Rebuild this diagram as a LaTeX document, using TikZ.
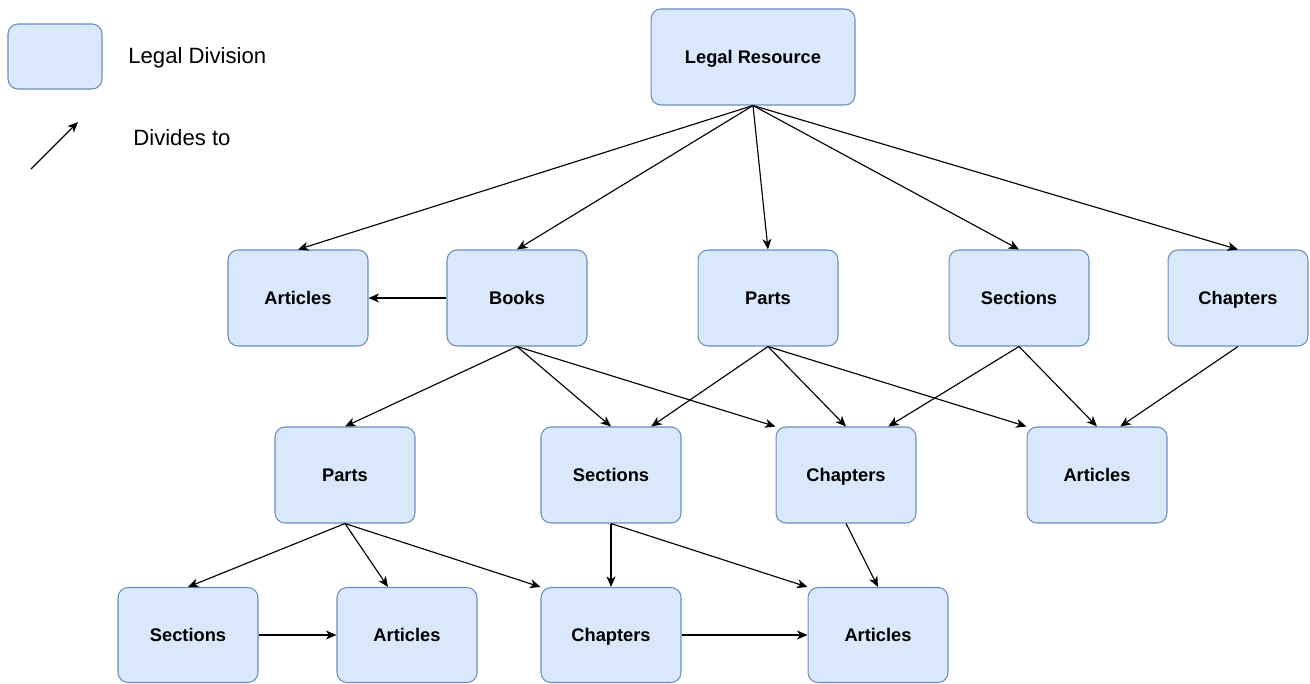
\documentclass[tikz,border=0pt]{standalone}
\usepackage{fontspec}
\setmainfont{Liberation Sans}
\usetikzlibrary{arrows.meta, calc}

\definecolor{divfill}{HTML}{DAE8FC}
\definecolor{divline}{HTML}{6C8EBF}

\begin{document}
\begin{tikzpicture}[x=0.02cm, y=-0.02cm,
    division/.style={draw=divline, fill=divfill, line width=0.6pt, rounded corners=0.2cm,
      minimum width=2.8cm, minimum height=1.92cm, inner sep=0pt,
      text height=0.86em, text depth=0.14em,
      font=\fontsize{10.4}{12}\selectfont\bfseries},
    divides/.style={-{Stealth[length=0.21cm, width=0.18cm, inset=0.06cm]}, line width=0.65pt},
    legendtext/.style={anchor=west, inner sep=0pt, font=\fontsize{12.6}{14}\selectfont}]
      \useasboundingbox (0,0) rectangle (1310,683);

      % legend
      \node[division, minimum width=1.88cm, minimum height=1.3cm] (key) at (55,56.5) {};
      \node[legendtext] (keytext) at (128,58) {Legal Division};
      \coordinate (arrowfrom) at (31,169);
      \coordinate (arrowto) at (78,122);
      \draw[divides] (arrowfrom) -- (arrowto);
      \node[legendtext] (arrowtext) at (133,138) {Divides to};

      % top
      \node[division, minimum width=4.08cm] (resource) at (753,57) {Legal Resource};

      % first level
      \node[division] (articlesA) at (298,298) {Articles};
      \node[division] (books) at (517,298) {Books};
      \node[division] (partsA) at (768,298) {Parts};
      \node[division] (sectionsA) at (1019,298) {Sections};
      \node[division] (chaptersA) at (1238,298) {Chapters};

      % second level
      \node[division] (partsB) at (345,475) {Parts};
      \node[division] (sectionsB) at (611,475) {Sections};
      \node[division] (chaptersB) at (846,475) {Chapters};
      \node[division] (articlesB) at (1097,475) {Articles};

      % third level
      \node[division, minimum height=1.9cm] (sectionsC) at (188,635) {Sections};
      \node[division, minimum height=1.9cm] (articlesC) at (407,635) {Articles};
      \node[division, minimum height=1.9cm] (chaptersC) at (611,635) {Chapters};
      \node[division, minimum height=1.9cm] (articlesD) at (878,635) {Articles};

      \draw[divides] (resource.south) -- (articlesA.north);
      \draw[divides] (resource.south) -- (books.north);
      \draw[divides] (resource.south) -- (partsA.north);
      \draw[divides] (resource.south) -- (sectionsA.north);
      \draw[divides] (resource.south) -- (chaptersA.north);

      \draw[divides] (books.west) -- (articlesA.east);
      \draw[divides] (books.south) -- (partsB.north);
      \draw[divides] (books.south) -- (sectionsB.north);
      \draw[divides] (books.south) -- (chaptersB.north west);

      \draw[divides] (partsA.south) -- ($(sectionsB.north)!0.57!(sectionsB.north east)$);
      \draw[divides] (partsA.south) -- (chaptersB.north);
      \draw[divides] (partsA.south) -- (articlesB.north west);

      \draw[divides] (sectionsA.south) -- ($(chaptersB.north)!0.6!(chaptersB.north east)$);
      \draw[divides] (sectionsA.south) -- (articlesB.north);
      \draw[divides] (chaptersA.south) -- ($(articlesB.north)!0.33!(articlesB.north east)$);

      \draw[divides] (partsB.south) -- (sectionsC.north);
      \draw[divides] (partsB.south) -- ($(articlesC.north)!0.27!(articlesC.north west)$);
      \draw[divides] (partsB.south) -- (chaptersC.north west);

      \draw[divides] (sectionsB.south) -- (chaptersC.north);
      \draw[divides] (sectionsB.south) -- (articlesD.north west);
      \draw[divides] (chaptersB.south) -- (articlesD.north);

      \draw[divides] (sectionsC.east) -- (articlesC.west);
      \draw[divides] (chaptersC.east) -- (articlesD.west);

    \end{tikzpicture}
\end{document}
